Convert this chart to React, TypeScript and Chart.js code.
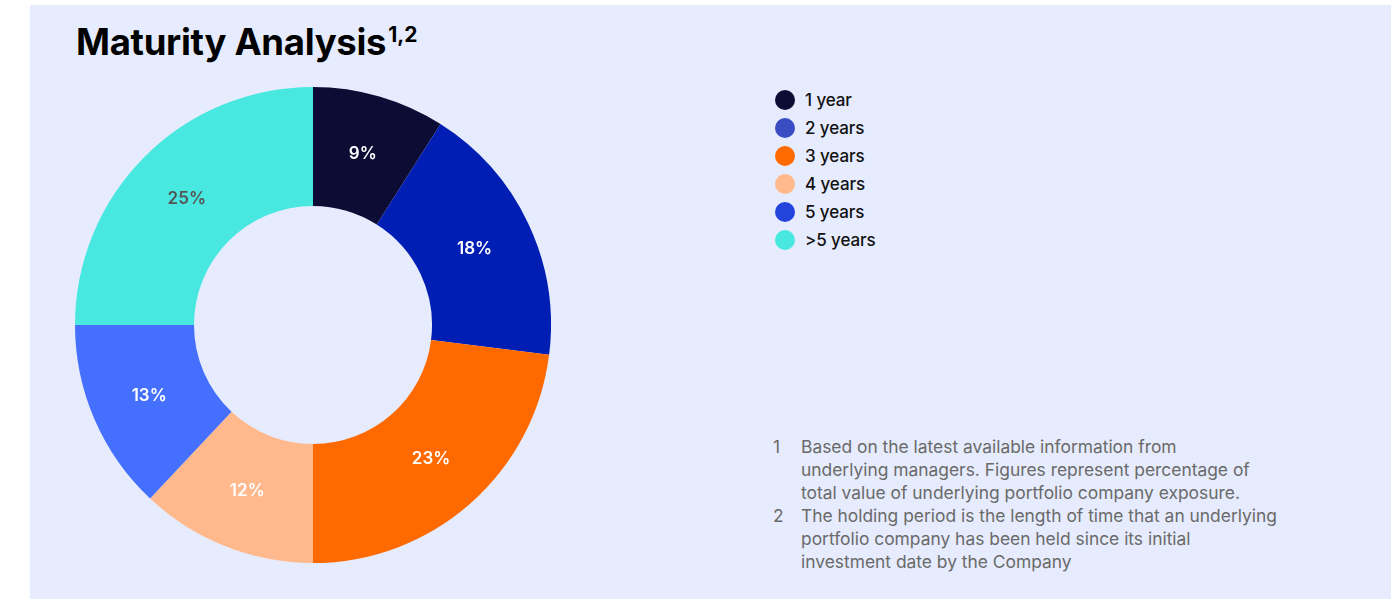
import React, { useEffect, useRef } from "react";
import { Chart, registerables } from "chart.js";

Chart.register(...registerables);

const categories = ["1 year", "2 years", "3 years", "4 years", "5 years", ">5 years"];
const values = [9, 18, 23, 12, 13, 25];
const segmentColors = ["#0d0c35", "#001eb3", "#ff6a00", "#ffb98c", "#4570ff", "#48e8e0"];
const legendColors = ["#0d0c35", "#3a4cc2", "#ff6a00", "#ffb98c", "#2244dd", "#48e8e0"];
const labelColors = ["#ffffff", "#ffffff", "#ffffff", "#ffffff", "#ffffff", "#555555"];

const FONT = "Inter, 'Noto Sans', sans-serif";

const labelPlugin = {
  id: "segLabels",
  afterDatasetsDraw(chart: any) {
    const ctx = chart.ctx;
    const meta = chart.getDatasetMeta(0);
    ctx.save();
    ctx.font = `600 17px ${FONT}`;
    ctx.textAlign = "center";
    ctx.textBaseline = "middle";
    meta.data.forEach((arc: any, i: number) => {
      const p = arc.tooltipPosition();
      ctx.fillStyle = labelColors[i];
      ctx.fillText(values[i] + "%", p.x, p.y);
    });
    ctx.restore();
  },
};

export default function App() {
  const ref = useRef<HTMLCanvasElement>(null);
  useEffect(() => {
    if (!ref.current) return;
    const chart = new Chart(ref.current, {
      type: "doughnut",
      data: {
        labels: categories,
        datasets: [{ data: values, backgroundColor: segmentColors, borderWidth: 0 }],
      },
      options: {
        animation: false,
        responsive: false,
        cutout: "50%",
        layout: { padding: 0 },
        plugins: { legend: { display: false }, tooltip: { enabled: false } },
      },
      plugins: [labelPlugin],
    });
    return () => chart.destroy();
  }, []);

  const footnotes = [
    ["1", ["Based on the latest available information from", "underlying managers. Figures represent percentage of", "total value of underlying portfolio company exposure."]],
    ["2", ["The holding period is the length of time that an underlying", "portfolio company has been held since its initial", "investment date by the Company"]],
  ] as [string, string[]][];

  return (
    <div style={{ position: "absolute", left: 0, top: 0, width: 1398, height: 599, background: "#ffffff", overflow: "hidden", fontFamily: FONT }}>
      <div style={{ position: "absolute", left: 30, top: 5, width: 1361, height: 594, background: "#e6ecfd" }} />
      <div style={{ position: "absolute", left: 76, top: 19, fontSize: 36.5, fontWeight: 700, color: "#000", lineHeight: "46px", letterSpacing: -0.3, whiteSpace: "nowrap" }}>
        Maturity Analysis<span style={{ fontSize: 21, position: "relative", top: -13, marginLeft: 2, letterSpacing: 0 }}>1,2</span>
      </div>
      <canvas ref={ref} width={476} height={476} style={{ position: "absolute", left: 75, top: 87, width: 476, height: 476 }} />
      <div style={{ position: "absolute", left: 775, top: 86 }}>
        {categories.map((c, i) => (
          <div key={c} style={{ display: "flex", alignItems: "center", height: 28, whiteSpace: "nowrap" }}>
            <span style={{ width: 20, height: 20, borderRadius: 10, background: legendColors[i], display: "inline-block", marginRight: 10 }} />
            <span style={{ fontSize: 17, fontWeight: 500, color: "#111", letterSpacing: -0.1 }}>{c}</span>
          </div>
        ))}
      </div>
      <div style={{ position: "absolute", left: 773, top: 435, fontSize: 17.4, color: "#6a6a6a", lineHeight: "23px", whiteSpace: "nowrap" }}>
        {footnotes.map(([n, lines]) => (
          <div key={n} style={{ display: "flex" }}>
            <div style={{ width: 28 }}>{n}</div>
            <div>{lines.map((l) => <div key={l}>{l}</div>)}</div>
          </div>
        ))}
      </div>
    </div>
  );
}
